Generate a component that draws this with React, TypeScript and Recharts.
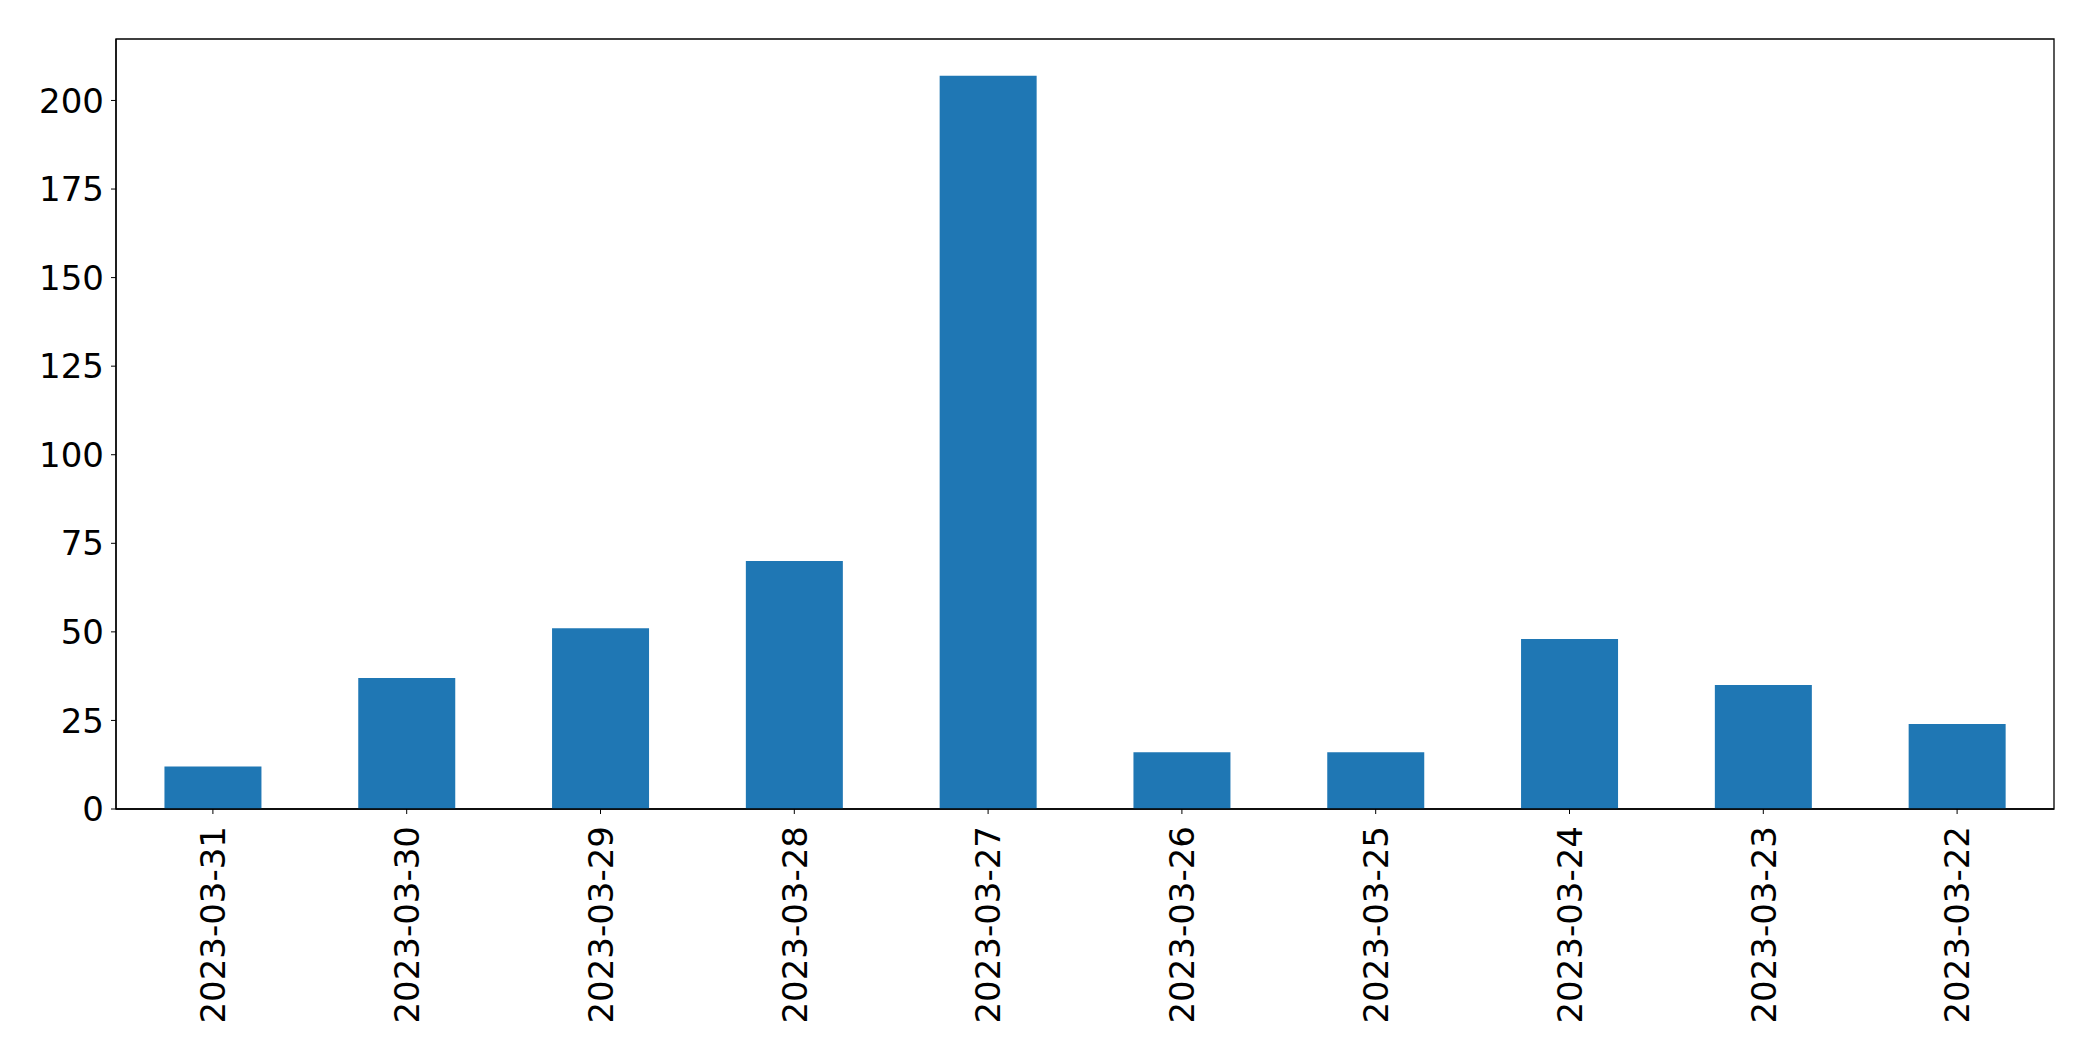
import React from 'react';
import { BarChart, Bar, XAxis, YAxis, ReferenceArea } from 'recharts';

const dates = [
  '2023-03-31', '2023-03-30', '2023-03-29', '2023-03-28', '2023-03-27',
  '2023-03-26', '2023-03-25', '2023-03-24', '2023-03-23', '2023-03-22',
];
const counts = [12, 37, 51, 70, 207, 16, 16, 48, 35, 24];
const yTicks = [0, 25, 50, 75, 100, 125, 150, 175, 200];
const yMax = 217.35;

const data = dates.map((d, i) => ({ date: d, count: counts[i] }));

const FONT = '"DejaVu Sans", sans-serif';

const DateTick = (props: any) => {
  const { x, y, payload } = props;
  return (
    <text
      x={x}
      y={y}
      transform={`rotate(-90, ${x}, ${y})`}
      textAnchor="end"
      dy="0.36em"
      fontSize={34}
      fontFamily={FONT}
      fill="#000"
    >
      {payload.value}
    </text>
  );
};

export default function App() {
  return (
    <div style={{ position: 'absolute', left: 0, top: 0, background: '#fff' }}>
      <BarChart
        width={2093}
        height={1061}
        data={data}
        margin={{ top: 39, right: 39, left: 0, bottom: 0 }}
        barCategoryGap="25%"
      >
        <XAxis
          dataKey="date"
          height={252}
          interval={0}
          tickSize={5}
          tickMargin={12}
          tickLine={{ stroke: '#000' }}
          axisLine={{ stroke: '#000', strokeWidth: 1.3 }}
          tick={<DateTick />}
        />
        <YAxis
          width={116}
          domain={[0, yMax]}
          ticks={yTicks}
          tickSize={5}
          tickMargin={7}
          tickLine={{ stroke: '#000' }}
          axisLine={{ stroke: '#000', strokeWidth: 1.3 }}
          tick={{ fontSize: 34, fontFamily: FONT, fill: '#000' }}
        />
        <Bar dataKey="count" fill="#1f77b4" isAnimationActive={false} />
        <ReferenceArea y1={0} y2={yMax} fill="none" stroke="#000" strokeWidth={1.3} ifOverflow="visible" />
      </BarChart>
    </div>
  );
}
